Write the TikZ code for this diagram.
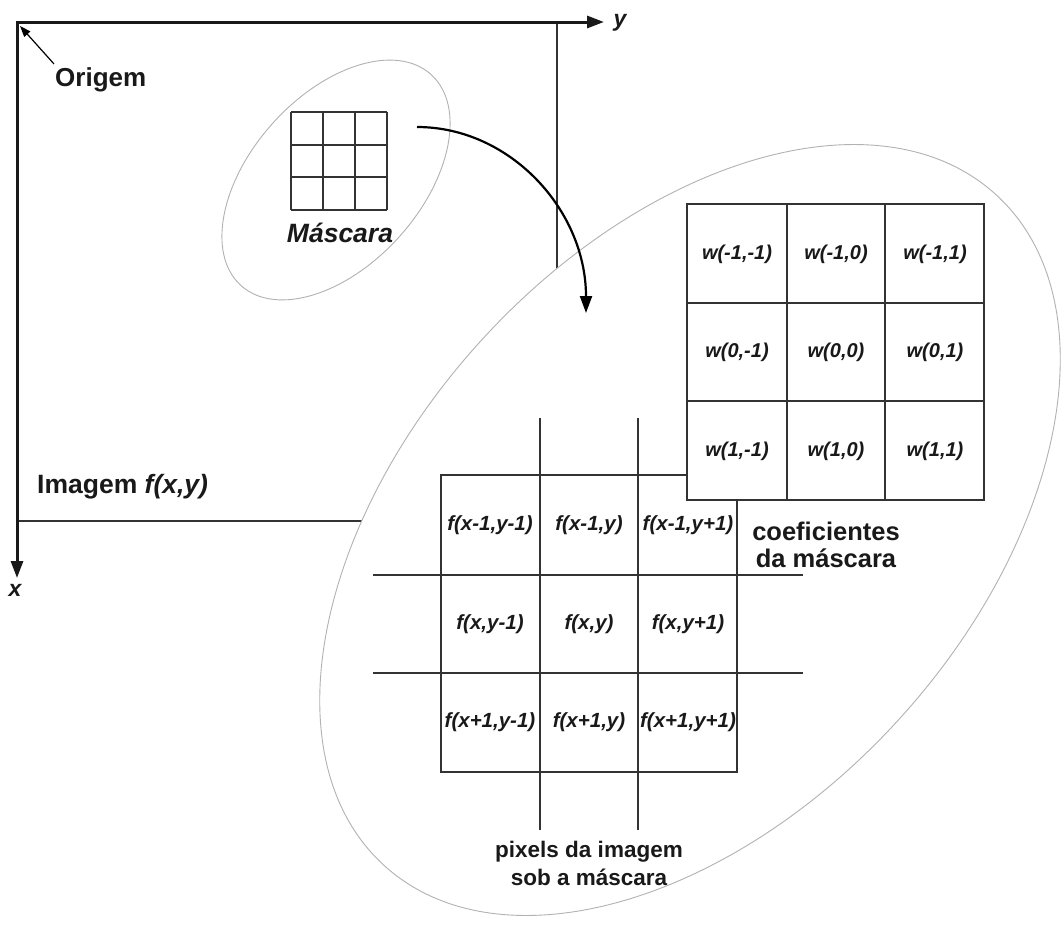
\documentclass[tikz,border=0pt]{standalone}
\usepackage{fontspec}
\setmainfont{Liberation Sans}
\usetikzlibrary{arrows.meta}
\begin{document}
\begin{tikzpicture}[x=1pt,y=-1pt,
  axisline/.style={line width=3pt, draw=black!90, line join=miter},
  thinline/.style={line width=1.3pt, draw=black!80},
  gridline/.style={line width=1.3pt, draw=black!80},
  ell/.style={line width=0.9pt, draw=black!30},
  lbl/.style={font=\fontsize{24}{28}\selectfont\bfseries, inner sep=0pt, text=black!90},
  bilbl/.style={font=\fontsize{24}{28}\selectfont\bfseries\itshape, inner sep=0pt, text=black!90},
  cellw/.style={font=\fontsize{20}{24}\selectfont\bfseries\itshape, inner sep=0pt, text=black!90},
  cellf/.style={font=\fontsize{20.5}{24}\selectfont\bfseries\itshape, inner sep=0pt, text=black!90},
]
\useasboundingbox (0,0) rectangle (1062,929);
\fill[white] (0,0) rectangle (1062,929);

% image frame lines
\draw[thinline] (557,22) -- (557,330);
\draw[thinline] (17,521) -- (420,521);

% axes
\coordinate (O) at (17,22);
\coordinate (Yend) at (604,22);
\coordinate (Xend) at (17,578);
\draw[axisline, {Triangle[length=17pt,width=12pt]}-{Triangle[length=17pt,width=12pt]}] (Yend) -- (O) -- (Xend);
\node[bilbl, font=\fontsize{23}{26}\selectfont\bfseries\itshape] (ylab) at (620,23) {y};
\node[bilbl, font=\fontsize{23}{26}\selectfont\bfseries\itshape] (xlab) at (15,590) {x};

% Origem
\node[lbl, font=\fontsize{26}{30}\selectfont\bfseries, anchor=base west] (orig) at (55,86) {Origem};
\coordinate (otip) at (20,26);
\draw[line width=1.2pt, -{Triangle[length=11pt,width=8pt]}] ([xshift=-1pt,yshift=3pt]orig.north west) -- (otip);

% Imagem label
\node[lbl, font=\fontsize{26.5}{30}\selectfont\bfseries, anchor=base west] (imlab) at (37,493) {Imagem \textit{f(x,y)}};

% small ellipse with mask
\draw[ell, rotate around={48:(336,180)}] (336,180) ellipse [x radius=142pt, y radius=85pt];
\foreach \x in {291,323,355,387} \draw[gridline] (\x,112) -- (\x,210);
\foreach \y in {112,145,177,210} \draw[gridline] (291,\y) -- (387,\y);
\node[bilbl, font=\fontsize{26.5}{30}\selectfont\bfseries\itshape, anchor=base] (masc) at (340,242) {Máscara};

% big ellipse
\draw[ell, fill=white, rotate around={47.6:(690,530)}] (690,530) ellipse [x radius=454pt, y radius=282pt];

% f grid
\foreach \x in {540,638} \draw[gridline] (\x,418) -- (\x,830);
\foreach \y in {575,673} {
  \draw[gridline, line width=1.1pt] (373,\y) -- (803,\y);
  \draw[gridline, line width=2pt] (441,\y) -- (737,\y);
}
\draw[gridline] (441,475) rectangle (737,772);
\node[cellf] (f11) at (490,525) {f(x-1,y-1)};
\node[cellf] (f12) at (589,525) {f(x-1,y)};
\node[cellf] (f13) at (688,525) {f(x-1,y+1)};
\node[cellf] (f21) at (490,624) {f(x,y-1)};
\node[cellf] (f22) at (589,624) {f(x,y)};
\node[cellf] (f23) at (688,624) {f(x,y+1)};
\node[cellf] (f31) at (490,722) {f(x+1,y-1)};
\node[cellf] (f32) at (589,722) {f(x+1,y)};
\node[cellf] (f33) at (688,722) {f(x+1,y+1)};

% w grid
\filldraw[gridline, fill=white] (687,204) rectangle (984,500);
\foreach \x in {787,885} \draw[gridline] (\x,204) -- (\x,500);
\foreach \y in {303,401} \draw[gridline] (687,\y) -- (984,\y);
\node[cellw] (w11) at (737,254) {w(-1,-1)};
\node[cellw] (w12) at (836,254) {w(-1,0)};
\node[cellw] (w13) at (935,254) {w(-1,1)};
\node[cellw] (w21) at (737,352) {w(0,-1)};
\node[cellw] (w22) at (836,352) {w(0,0)};
\node[cellw] (w23) at (935,352) {w(0,1)};
\node[cellw] (w31) at (737,451) {w(1,-1)};
\node[cellw] (w32) at (836,451) {w(1,0)};
\node[cellw] (w33) at (935,451) {w(1,1)};

% curved arrow
\coordinate (cs) at (417,127);
\coordinate (ce) at (586,313);
\draw[line width=2.2pt, -{Triangle[length=17pt,width=12pt]}] (cs) .. controls (510,127) and (586,210) .. (ce);

% labels
\node[lbl, font=\fontsize{25.5}{30}\selectfont\bfseries, anchor=base] (coef1) at (826,540) {coeficientes};
\node[lbl, font=\fontsize{25.5}{30}\selectfont\bfseries, anchor=base] (coef2) at (826,567) {da máscara};
\node[lbl, font=\fontsize{22.5}{27}\selectfont\bfseries, anchor=base] (pix1) at (589,857) {pixels da imagem};
\node[lbl, font=\fontsize{22.5}{27}\selectfont\bfseries, anchor=base] (pix2) at (589,885) {sob a máscara};
\end{tikzpicture}
\end{document}
